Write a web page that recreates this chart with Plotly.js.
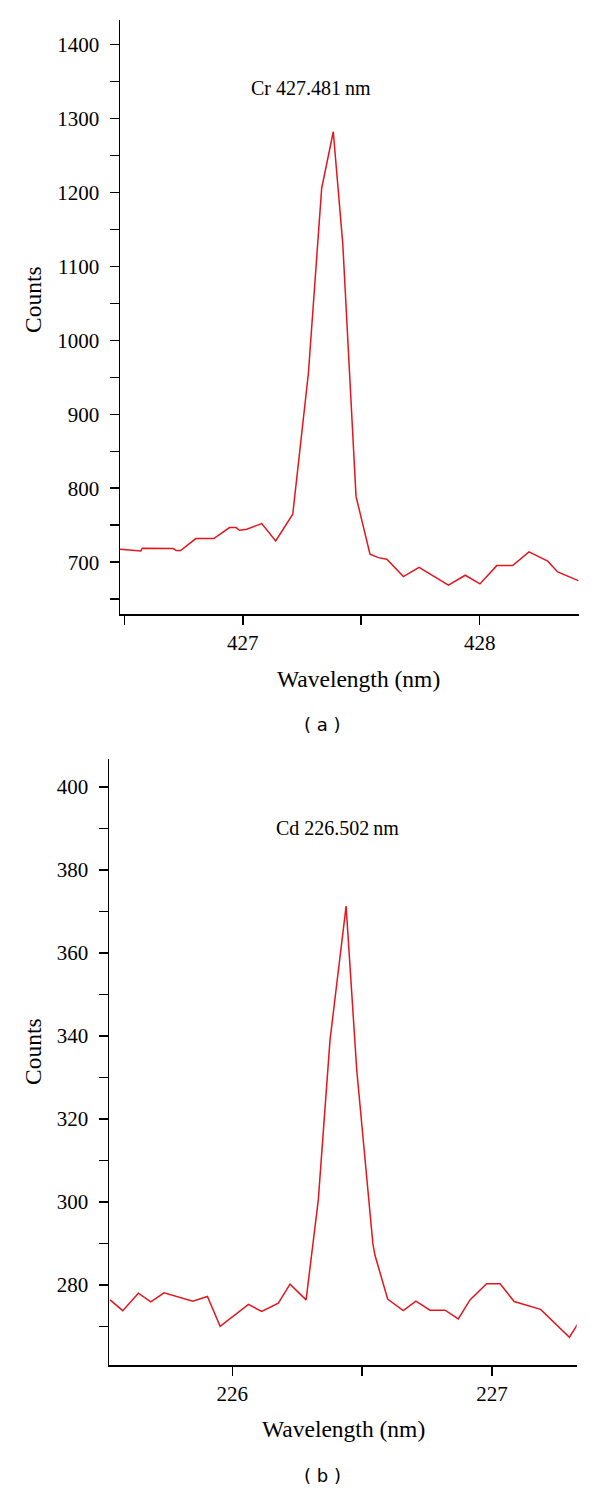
<!DOCTYPE html>
<html>
<head>
<meta charset="utf-8">
<script src="https://cdn.plot.ly/plotly-3.0.1.min.js"></script>
<style>html,body{margin:0;padding:0;background:#fff;}#chart{width:600px;height:1492px;}</style>
</head>
<body>
<div id="chart"></div>
<script>
// Panel (a): Cr 427.481 nm
const crWavelength = [426.482, 426.570, 426.576, 426.707, 426.719, 426.738, 426.802, 426.878, 426.944, 426.972, 426.986, 427.017, 427.080, 427.139, 427.211, 427.277, 427.333, 427.382, 427.422, 427.478, 427.537, 427.572, 427.608, 427.678, 427.744, 427.868, 427.939, 428.001, 428.072, 428.139, 428.208, 428.287, 428.329, 428.416];
const crCounts = [717.6, 715.3, 718.9, 718.4, 715.7, 715.7, 731.9, 731.9, 746.8, 746.8, 743.2, 744.6, 752.2, 728.8, 764.9, 955.4, 1205.4, 1281.9, 1131.1, 789.0, 710.8, 706.2, 704.0, 680.5, 693.2, 668.9, 682.4, 670.7, 695.4, 695.4, 713.9, 701.4, 686.9, 675.1];

// Panel (b): Cd 226.502 nm
const cdWavelength = [225.529, 225.578, 225.638, 225.686, 225.737, 225.848, 225.904, 225.953, 226.062, 226.113, 226.177, 226.222, 226.284, 226.306, 226.331, 226.376, 226.438, 226.479, 226.524, 226.541, 226.549, 226.598, 226.658, 226.707, 226.761, 226.819, 226.870, 226.915, 226.979, 227.031, 227.085, 227.187, 227.298, 227.330];
const cdCounts = [276.4, 273.8, 278.0, 275.9, 278.1, 276.1, 277.2, 270.0, 275.3, 273.6, 275.6, 280.2, 276.4, 288.4, 300.5, 339.0, 371.3, 331.8, 300.5, 290.0, 287.2, 276.6, 273.8, 276.1, 273.9, 273.9, 271.8, 276.4, 280.3, 280.3, 276.0, 274.1, 267.4, 270.6];

// Tick definitions
const crXTicks = [426.5, 427, 427.5, 428];
const crXTickText = ['', '427', '', '428'];
const crYTicks = [650, 700, 750, 800, 850, 900, 950, 1000, 1050, 1100, 1150, 1200, 1250, 1300, 1350, 1400];
const crYTickText = ['', '700', '', '800', '', '900', '', '1000', '', '1100', '', '1200', '', '1300', '', '1400'];
const cdXTicks = [226, 226.5, 227];
const cdXTickText = ['226', '', '227'];
const cdYTicks = [270, 280, 290, 300, 310, 320, 330, 340, 350, 360, 370, 380, 390, 400];
const cdYTickText = ['', '280', '', '300', '', '320', '', '340', '', '360', '', '380', '', '400'];

// Text labels
const xTitle = 'Wavelength (nm)';
const yTitle = 'Counts';
const crLabel = 'Cr 427.481\u2009nm';
const cdLabel = 'Cd 226.502\u2009nm';

const serif = 'Liberation Serif, Times New Roman, serif';
const sans = 'DejaVu Sans, sans-serif';
const lineColor = '#e3161d';

const traces = [
  {x: crWavelength, y: crCounts, xaxis: 'x', yaxis: 'y', type: 'scatter', mode: 'lines',
   line: {color: lineColor, width: 1.5}, hoverinfo: 'skip'},
  {x: cdWavelength, y: cdCounts, xaxis: 'x2', yaxis: 'y2', type: 'scatter', mode: 'lines',
   line: {color: lineColor, width: 1.5}, hoverinfo: 'skip'}
];

const axisCommon = {
  showline: true, linecolor: '#000', linewidth: 1.5, mirror: false,
  showgrid: false, zeroline: false, ticks: 'outside', ticklen: 9, tickwidth: 1.5, tickcolor: '#000',
  tickfont: {family: serif, size: 21, color: '#000'}, tickmode: 'array', fixedrange: true
};

function label(text, x, y, size, family, angle) {
  return {text: text, xref: 'paper', yref: 'paper', x: x / 600, y: (1492 - y) / 1492,
          xanchor: 'center', yanchor: 'middle', showarrow: false, textangle: angle || 0,
          font: {family: family, size: size, color: '#000'}};
}

const layout = {
  width: 600, height: 1492,
  margin: {l: 0, r: 0, t: 0, b: 0},
  paper_bgcolor: '#fff', plot_bgcolor: '#fff',
  showlegend: false,
  font: {family: serif, color: '#000'},
  xaxis: Object.assign({}, axisCommon, {
    domain: [0.2, 0.965], range: [426.482, 428.419], anchor: 'y',
    tickvals: crXTicks, ticktext: crXTickText
  }),
  yaxis: Object.assign({}, axisCommon, {
    domain: [0.58847, 0.98660], range: [630, 1433], anchor: 'x',
    tickvals: crYTicks, ticktext: crYTickText, ticklabelstandoff: 6
  }),
  xaxis2: Object.assign({}, axisCommon, {
    domain: [0.18167, 0.96117], range: [225.525, 227.326], anchor: 'y2',
    tickvals: cdXTicks, ticktext: cdXTickText
  }),
  yaxis2: Object.assign({}, axisCommon, {
    domain: [0.08512, 0.49109], range: [260.7, 406.7], anchor: 'x2',
    tickvals: cdYTicks, ticktext: cdYTickText, ticklabelstandoff: 6
  }),
  annotations: [
    label(crLabel, 311, 88, 20, serif),
    label(cdLabel, 337, 828, 20, serif),
    label(xTitle, 358.5, 679, 23.5, serif),
    label(xTitle, 343.5, 1429, 23.5, serif),
    label(yTitle, 33, 300, 23.5, serif, -90),
    label(yTitle, 33, 1052, 23.5, serif, -90),
    label('( a )', 322, 724, 18, sans),
    label('( b )', 322, 1475, 18, sans)
  ]
};

Plotly.newPlot('chart', traces, layout, {staticPlot: true, displayModeBar: false});
</script>
</body>
</html>
